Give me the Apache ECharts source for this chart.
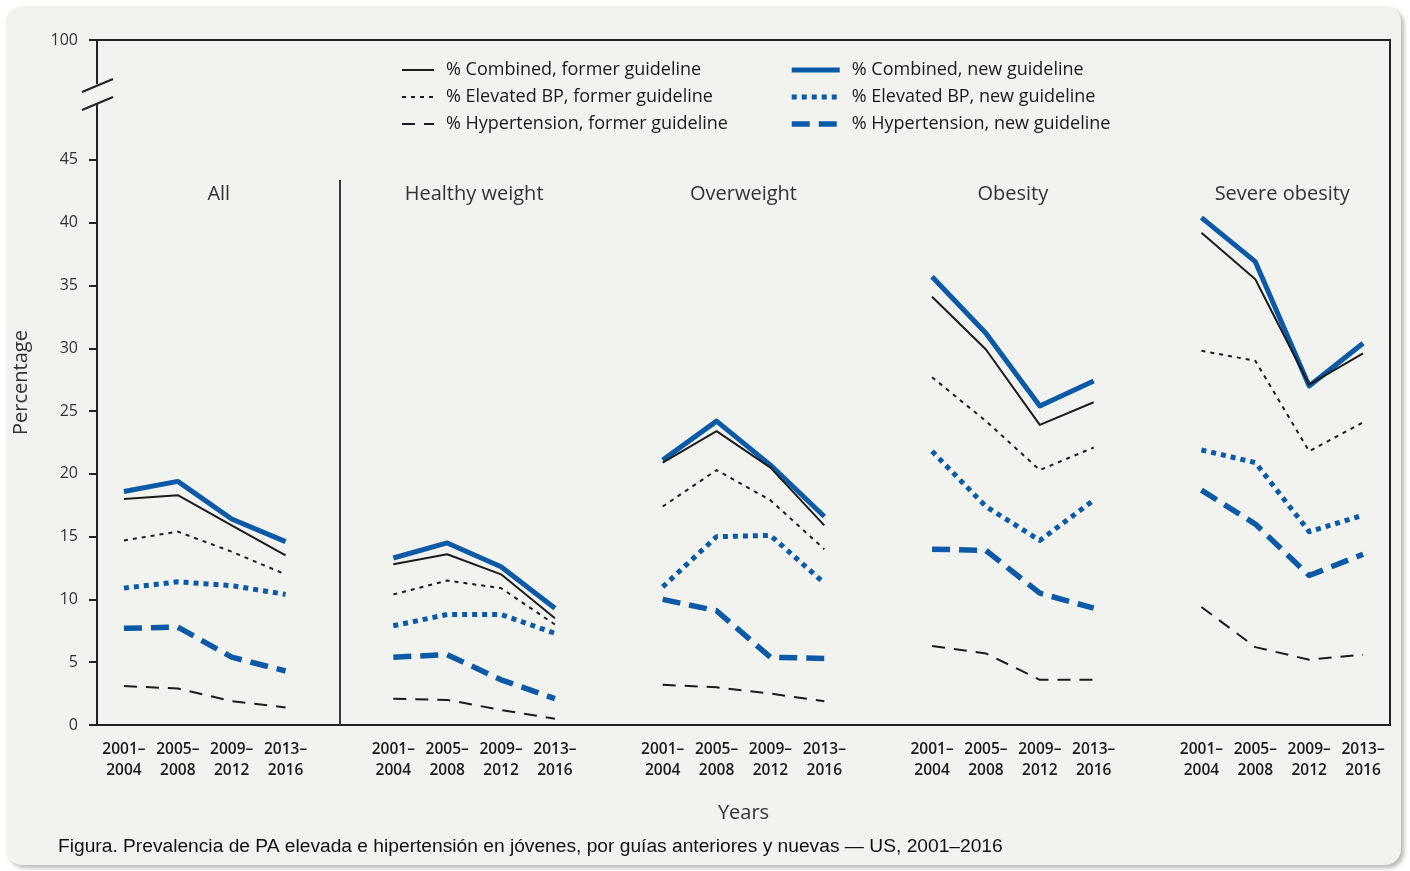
<!DOCTYPE html>
<html>
<head>
<meta charset="utf-8">
<title>Prevalencia de PA elevada e hipertensión en jóvenes</title>
<script src="https://cdn.jsdelivr.net/npm/echarts@6/dist/echarts.min.js"></script>
<style>
  html, body { margin: 0; padding: 0; background: #ffffff; }
  #card {
    position: absolute; left: 6px; top: 6px; width: 1395px; height: 859px;
    background: #f2f2ee; border-radius: 16px;
    box-shadow: 3px 3px 4px rgba(0, 0, 0, 0.28);
  }
  #chart { position: absolute; left: 0; top: 0; width: 1410px; height: 871px; }
</style>
</head>
<body>
<div id="card"></div>
<div id="chart"></div>
<script>
// Survey periods and weight-status groups
const periods = ['2001–\n2004', '2005–\n2008', '2009–\n2012', '2013–\n2016'];
const groups = ['All', 'Healthy weight', 'Overweight', 'Obesity', 'Severe obesity'];

// Percentages, 4 periods per group, groups in the order above
const combinedFormer = [18.0, 18.3, 15.9, 13.5, 12.8, 13.6, 12.0, 8.5, 20.9, 23.4, 20.5, 15.9, 34.1, 29.9, 23.9, 25.7, 39.2, 35.5, 27.1, 29.6];
const combinedNew    = [18.6, 19.4, 16.4, 14.6, 13.3, 14.5, 12.6, 9.3, 21.1, 24.2, 20.7, 16.6, 35.7, 31.2, 25.4, 27.4, 40.4, 36.9, 27.0, 30.4];
const elevatedFormer = [14.7, 15.4, 13.8, 12.0, 10.4, 11.5, 10.9, 8.0, 17.4, 20.3, 17.9, 14.0, 27.7, 24.2, 20.3, 22.1, 29.8, 29.0, 21.8, 24.1];
const elevatedNew    = [10.9, 11.4, 11.1, 10.4, 7.9, 8.8, 8.8, 7.3, 11.0, 15.0, 15.1, 11.3, 21.8, 17.4, 14.7, 17.9, 21.9, 20.9, 15.4, 16.7];
const hyperFormer    = [3.1, 2.9, 1.9, 1.4, 2.1, 2.0, 1.2, 0.5, 3.2, 3.0, 2.5, 1.9, 6.3, 5.7, 3.6, 3.6, 9.4, 6.2, 5.2, 5.6];
const hyperNew       = [7.7, 7.8, 5.4, 4.3, 5.4, 5.6, 3.6, 2.1, 10.0, 9.1, 5.4, 5.3, 14.0, 13.9, 10.5, 9.3, 18.7, 16.0, 11.9, 13.6];

// Y axis: linear 0–45, broken above, with the top edge labelled 100
const yTicks = [0, 5, 10, 15, 20, 25, 30, 35, 40, 45];
const yTopLabel = '100';
const Y_TOP = 54.55;          // axis extent that holds the broken segment up to the 100 line
const TITLE_Y = 42.3;         // height of the group titles, in axis units
const SEPARATOR_TOP = 43.4;   // top of the rule that separates "All" from the other groups

const BLUE = '#0b5aa8';
const INK = '#1c1c1c';
const FONT = '"Open Sans", "Noto Sans", sans-serif';
const CARD = '#f2f2ee';

// Category axis: four periods per group with one empty slot between groups
const categories = [];
groups.forEach((g, gi) => {
  if (gi > 0) categories.push(' '.repeat(gi));
  periods.forEach(p => categories.push(p));
});
function spread(values) {
  const out = [];
  groups.forEach((g, gi) => {
    if (gi > 0) out.push(null);
    for (let k = 0; k < periods.length; k++) out.push(values[gi * periods.length + k]);
  });
  return out;
}
const groupStart = gi => gi * (periods.length + 1);

function lineSeries(name, values, color, width, dash, extra) {
  return Object.assign({
    name: name,
    type: 'line',
    data: spread(values),
    symbol: 'none',
    connectNulls: false,
    silent: true,
    lineStyle: { color: color, width: width, type: dash, join: 'round', cap: 'butt' },
    itemStyle: { color: color },
    emphasis: { disabled: true }
  }, extra || {});
}

const series = [
  lineSeries('% Combined, new guideline', combinedNew, BLUE, 5, 'solid', {
    markLine: {
      silent: true, symbol: ['none', 'none'], label: { show: false },
      lineStyle: { color: '#3a3a3a', width: 2, type: 'solid' },
      data: [[{ coord: [4, SEPARATOR_TOP] }, { coord: [4, 0] }]]
    }
  }),
  lineSeries('% Elevated BP, new guideline', elevatedNew, BLUE, 5, [5, 5]),
  lineSeries('% Hypertension, new guideline', hyperNew, BLUE, 5.5, [18, 9]),
  lineSeries('% Combined, former guideline', combinedFormer, INK, 2, 'solid'),
  lineSeries('% Elevated BP, former guideline', elevatedFormer, INK, 2, [4, 5]),
  lineSeries('% Hypertension, former guideline', hyperFormer, INK, 2, [13, 9])
];

const legendText = { fontFamily: FONT, fontSize: 18, color: '#1a1a1a', padding: [0, 0, 0, 7] };

const chart = echarts.init(document.getElementById('chart'), null, { renderer: 'canvas' });
chart.setOption({
  animation: false,
  backgroundColor: 'transparent',
  grid: {
    left: 97, right: 20, top: 40, bottom: 146,
    show: true, borderColor: '#222', borderWidth: 2, backgroundColor: 'transparent'
  },
  legend: [
    {
      orient: 'vertical', left: 396, top: 56, itemWidth: 32, itemHeight: 14, itemGap: 9,
      data: ['% Combined, former guideline', '% Elevated BP, former guideline', '% Hypertension, former guideline'],
      itemStyle: { opacity: 0 },
      lineStyle: { width: 'inherit' },
      textStyle: legendText, selectedMode: false
    },
    {
      orient: 'vertical', left: 784, top: 56, itemWidth: 48, itemHeight: 14, itemGap: 9,
      data: ['% Combined, new guideline', '% Elevated BP, new guideline', '% Hypertension, new guideline'],
      itemStyle: { opacity: 0 },
      lineStyle: { width: 'inherit' },
      textStyle: legendText, selectedMode: false
    }
  ],
  xAxis: {
    type: 'category',
    data: categories,
    boundaryGap: true,
    name: 'Years',
    nameLocation: 'middle',
    nameGap: 78,
    nameTextStyle: { fontFamily: FONT, fontSize: 20, color: '#333' },
    axisLine: { lineStyle: { color: '#222', width: 2 } },
    axisTick: {
      alignWithLabel: true, length: 8, lineStyle: { color: '#222', width: 2 },
      interval: (i, v) => v.trim() !== ''
    },
    axisLabel: {
      interval: 0, margin: 14, fontFamily: FONT, fontSize: 15.5, color: '#1a1a1a',
      lineHeight: 21, fontWeight: 600
    },
    splitLine: { show: false }
  },
  yAxis: {
    type: 'value',
    min: 0,
    max: Y_TOP,
    name: 'Percentage',
    nameLocation: 'middle',
    nameGap: 66,
    nameTextStyle: { fontFamily: FONT, fontSize: 20, color: '#333' },
    axisLine: { show: true, lineStyle: { color: '#222', width: 2 } },
    axisTick: { show: true, length: 8, lineStyle: { color: '#222', width: 2 }, customValues: yTicks.concat([Y_TOP]) },
    axisLabel: {
      margin: 19, fontFamily: FONT, fontSize: 16, color: '#333',
      customValues: yTicks.concat([Y_TOP]),
      formatter: v => (Math.abs(v - Y_TOP) < 1e-6 ? yTopLabel : String(v))
    },
    splitLine: { show: false }
  },
  series: series
});

// Group titles, axis break marks and the figure caption
const xPixel = idx => chart.convertToPixel({ xAxisIndex: 0 }, idx);
const titleY = chart.convertToPixel({ yAxisIndex: 0 }, TITLE_Y);
const graphics = groups.map((g, gi) => {
  const cx = (xPixel(groupStart(gi)) + xPixel(groupStart(gi) + periods.length - 1)) / 2;
  return {
    type: 'text', x: cx + (gi === 0 ? 14 : 0), y: titleY, silent: true,
    style: { text: g, fontFamily: FONT, fontSize: 20, fill: '#333', align: 'center', verticalAlign: 'middle' }
  };
});
const axisX = xPixel(0) - (xPixel(1) - xPixel(0)) / 2;
graphics.push(
  { type: 'rect', silent: true, z: 100, shape: { x: axisX - 4, y: 84, width: 8, height: 20 }, style: { fill: CARD } },
  { type: 'line', silent: true, z: 101, shape: { x1: axisX - 15, y1: 92, x2: axisX + 16, y2: 79 }, style: { stroke: '#222', lineWidth: 2 } },
  { type: 'line', silent: true, z: 101, shape: { x1: axisX - 15, y1: 110, x2: axisX + 16, y2: 97 }, style: { stroke: '#222', lineWidth: 2 } },
  {
    type: 'text', left: 58, top: 837, silent: true,
    style: {
      text: 'Figura. Prevalencia de PA elevada e hipertensión en jóvenes, por guías anteriores y nuevas — US, 2001–2016',
      fontFamily: '"Liberation Sans", Arial, sans-serif', fontSize: 19.2, fill: '#111'
    }
  }
);
chart.setOption({ graphic: graphics });
</script>
</body>
</html>
